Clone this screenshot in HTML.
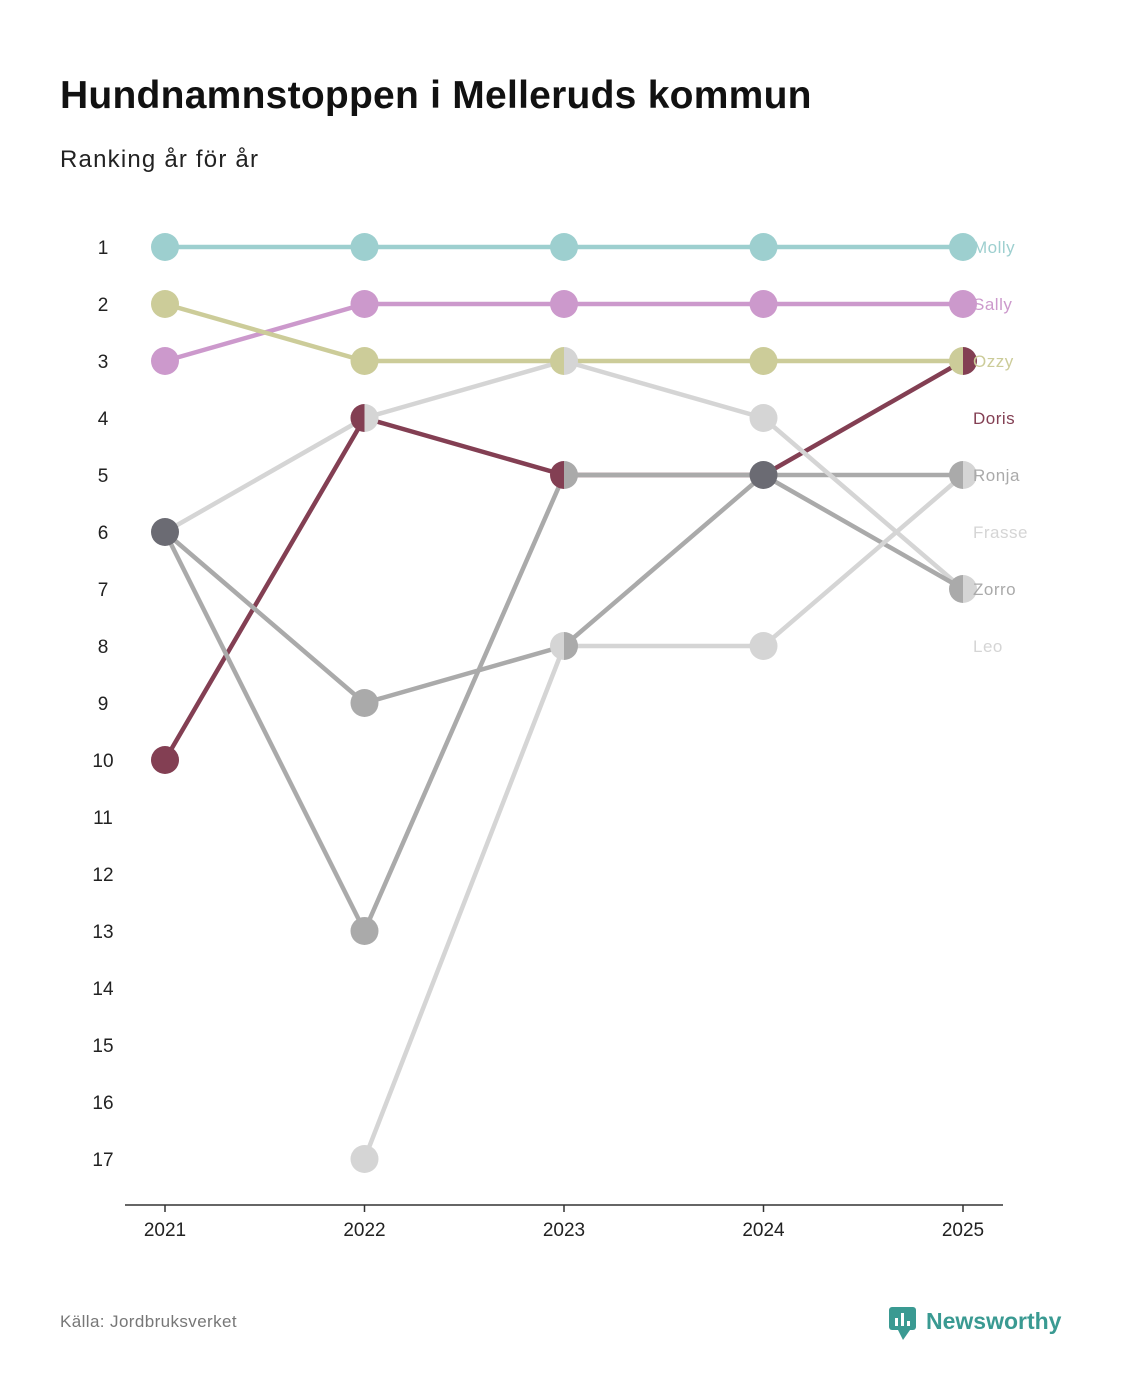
<!DOCTYPE html>
<html><head><meta charset="utf-8">
<style>
body{margin:0;background:#fff;font-family:"Liberation Sans",sans-serif;}
svg{display:block}
</style></head>
<body>
<svg id="chart" width="1122" height="1400" viewBox="0 0 1122 1400">
<text x="60" y="108" font-size="39" font-weight="bold" fill="#111" letter-spacing="0.25">Hundnamnstoppen i Melleruds kommun</text>
<text x="60" y="167" font-size="24" fill="#222" letter-spacing="1.2">Ranking år för år</text>
<line x1="125" y1="1205" x2="1003" y2="1205" stroke="#333" stroke-width="1.5"/>
<text x="60" y="1327" font-size="17" fill="#777" letter-spacing="0.4">Källa: Jordbruksverket</text>
<g>
<rect x="889" y="1307" width="27" height="23" rx="3" fill="#3a9a92"/>
<polygon points="898,1330 910,1330 903,1340" fill="#3a9a92"/>
<rect x="895" y="1318" width="3" height="8" fill="#fff"/><rect x="901" y="1313" width="3" height="13" fill="#fff"/><rect x="907" y="1321" width="3" height="5" fill="#fff"/>
<text x="926" y="1329" font-size="23" font-weight="bold" fill="#3a9a92">Newsworthy</text>
</g>
<g id="layer"></g>
</svg>
<script>
const years = [2021, 2022, 2023, 2024, 2025];
const names = ["Molly", "Sally", "Ozzy", "Doris", "Ronja", "Frasse", "Zorro", "Leo"];
const colors = ["#9dcfcf", "#cc99cc", "#cccc99", "#833f53", "#aaaaaa", "#d5d5d5", "#aaaaaa", "#d5d5d5"];
const molly = [1, 1, 1, 1, 1];
const sally = [3, 2, 2, 2, 2];
const ozzy = [2, 3, 3, 3, 3];
const doris = [10, 4, 5, 5, 3];
const ronja = [6, 13, 5, 5, 5];
const frasse = [6, 4, 3, 4, 7];
const zorro = [6, 9, 8, 5, 7];
const leo = [null, 17, 8, 8, 5];
const series = [molly, sally, ozzy, doris, ronja, frasse, zorro, leo];
const pointOrder = [0, 1, 2, 3, 4, 7, 6, 5];
const rankTicks = [1,2,3,4,5,6,7,8,9,10,11,12,13,14,15,16,17];

const NS = "http://www.w3.org/2000/svg";
const layer = document.getElementById("layer");
const xs = i => 165 + i * 199.5;
const ys = r => 247 + (r - 1) * 57;
function mk(tag, attrs){const e=document.createElementNS(NS,tag);for(const k in attrs)e.setAttribute(k,attrs[k]);layer.appendChild(e);return e;}

rankTicks.forEach(r=>{
  const t=mk("text",{x:103,y:ys(r)+7,"font-size":19,fill:"#222","text-anchor":"middle"});
  t.textContent=r;
  
  
});
years.forEach((y,i)=>{
  const l=mk("line",{x1:xs(i),y1:1205,x2:xs(i),y2:1212,stroke:"#333","stroke-width":1.5});
  
  
  const t=mk("text",{x:xs(i),y:1236,"font-size":19,fill:"#222","text-anchor":"middle"});
  t.textContent=y;
  
  
});

series.forEach((s,k)=>{
  let d="";
  s.forEach((v,i)=>{ if(v==null) return; d += (d?"L":"M")+xs(i)+","+ys(v); });
  const p=mk("path",{d:d,fill:"none",stroke:colors[k],"stroke-width":4.5,"stroke-linejoin":"round"});
  
  
});

years.forEach((y,i)=>{
  const groups={};
  pointOrder.forEach(k=>{ const v=series[k][i]; if(v==null) return; (groups[v]=groups[v]||[]).push(k); });
  for(const r in groups){
    const g=groups[r], cx=xs(i), cy=ys(+r), R=14;
    if(g.length>=3){
      const c=mk("circle",{cx:cx,cy:cy,r:R,fill:"#6b6b73"});
      
      
    } else if(g.length==2){
      const a=mk("path",{d:`M${cx},${cy-R}A${R},${R} 0 0 0 ${cx},${cy+R}Z`,fill:colors[g[0]]});
      
      
      const b=mk("path",{d:`M${cx},${cy-R}A${R},${R} 0 0 1 ${cx},${cy+R}Z`,fill:colors[g[1]]});
      
      
    } else {
      const c=mk("circle",{cx:cx,cy:cy,r:R,fill:colors[g[0]]});
      
      
    }
  }
});

names.forEach((n,k)=>{
  const t=mk("text",{x:973,y:ys(k+1)+6,"font-size":17,fill:colors[k],"letter-spacing":0.5});
  t.textContent=n;
  
  
});
</script>
</body></html>
